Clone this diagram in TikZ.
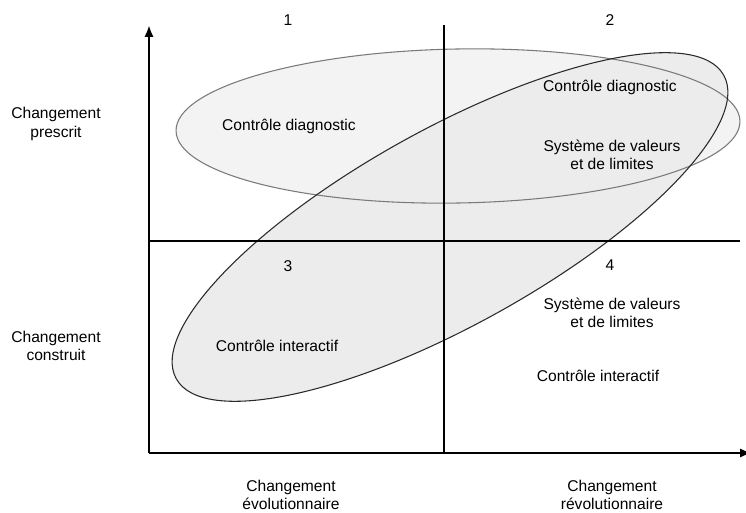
\documentclass[tikz,border=0pt]{standalone}
\usepackage{fontspec}
\setmainfont{Liberation Sans}
\usetikzlibrary{arrows.meta}
\usetikzlibrary{calc}

\definecolor{fondA}{HTML}{F3F3F3}
\definecolor{fondB}{HTML}{ECECEC}
\definecolor{traitA}{HTML}{7A7A7A}
\definecolor{traitB}{HTML}{2A2A2A}

\begin{document}
\begin{tikzpicture}[line cap=butt, x=0.75pt, y=-0.75pt,
    font=\fontsize{11.7}{13.6}\selectfont,
    axe/.style={line width=2pt},
    milieu/.style={line width=1.6pt},
    etiquette/.style={align=center, inner sep=0pt}]
    % matrice changement / contrôle
    \def\xo{149}
    \def\yo{453}
    \def\xm{444}
    \def\ym{241}
    \useasboundingbox (0,0) rectangle (746,513);

    \coordinate (O) at (\xo, \yo);
    \coordinate (Ytop) at (\xo, 25);
    \coordinate (Xend) at (752, \yo);
    \coordinate (Mtop) at (\xm, 25);
    \coordinate (Mbot) at (\xm, \yo);
    \coordinate (Hleft) at (\xo, \ym);
    \coordinate (Hright) at (740, \ym);
    \coordinate (E1) at (458, 126);
    \coordinate (E2) at (450, 227);

    % ellipses
    \fill[fondA] (E1) circle [x radius=282, y radius=77, rotate=1];
    \fill[fondB] (E2) circle [x radius=313, y radius=98, rotate=29];
    \draw[traitA, line width=0.8pt] (E1) circle [x radius=282, y radius=77, rotate=1];
    \draw[traitB, line width=0.8pt] (E2) circle [x radius=313, y radius=98, rotate=29];

    % axes
    \draw[axe, -{Latex[length=9pt, width=7pt]}] (O) -- (Ytop);
    \draw[axe, -{Latex[length=9pt, width=7pt]}] (O) -- (Xend);
    \draw[milieu] (Mtop) -- (Mbot);
    \draw[milieu] (Hleft) -- (Hright);

    % numéros des quadrants
    \node[etiquette] (n1) at (288, 20) {1};
    \node[etiquette] (n2) at (610, 20) {2};
    \node[etiquette] (n3) at (288, 266) {3};
    \node[etiquette] (n4) at (610, 265) {4};

    % contenus
    \node[etiquette] (cd1) at (289, 126) {Contrôle diagnostic};
    \node[etiquette] (cd2) at (610, 87) {Contrôle diagnostic};
    \node[etiquette] (sv2) at (612, 155) {Système de valeurs\\et de limites};
    \node[etiquette] (sv4) at (612, 313) {Système de valeurs\\et de limites};
    \node[etiquette] (ci4) at (598, 376) {Contrôle interactif};
    \node[etiquette] (ci3) at (277, 346) {Contrôle interactif};

    % libellés des axes
    \node[etiquette] (presc) at (56, 124) {Changement\\prescrit};
    \node[etiquette] (constr) at (56, 346) {Changement\\construit};
    \node[etiquette] (evol) at (291, 495) {Changement\\évolutionnaire};
    \node[etiquette] (revol) at (612, 495) {Changement\\révolutionnaire};
\end{tikzpicture}
\end{document}
